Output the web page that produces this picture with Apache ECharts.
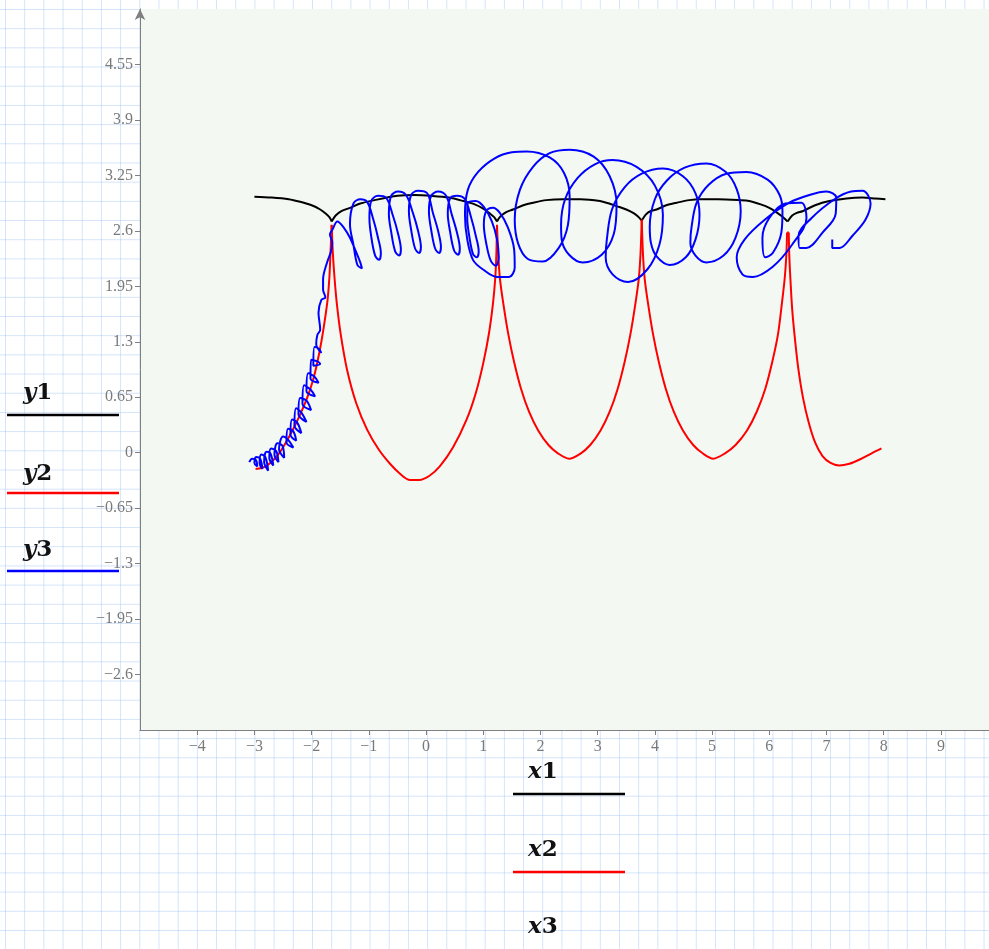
<!DOCTYPE html>
<html><head><meta charset="utf-8">
<script src="https://cdn.jsdelivr.net/npm/echarts/dist/echarts.min.js"></script>
<style>
html,body{margin:0;padding:0;width:989px;height:949px;overflow:hidden;}
body{background-color:#fff;
background-image:linear-gradient(to right, rgba(160,195,240,0.45) 1px, transparent 1px),linear-gradient(to bottom, rgba(160,195,240,0.45) 1px, transparent 1px);
background-size:19.2px 19.2px;background-position:5px 9px;}
#chart{width:989px;height:949px;}
</style></head>
<body><div id="chart"></div>
<script>
// axis tick settings
const xTicks = {min:-5, max:9.84, interval:1};
const yTicks = {min:-3.25, max:5.2, interval:0.65};

// y1 vs x1 (black), one array per arch between cusps
const y1Arches = [
 [[-3.00,3.00],[-2.70,2.99],[-2.40,2.97],[-2.20,2.94],[-2.00,2.90],[-1.85,2.85],[-1.75,2.80],[-1.69,2.76],[-1.65,2.71]],
 [[-1.65,2.71],[-1.58,2.78],[-1.48,2.83],[-1.33,2.87],[-1.15,2.92],[-0.90,2.96],[-0.50,3.01],[-0.20,3.02],[0.10,3.01],[0.40,2.99],[0.65,2.95],[0.85,2.91],[1.00,2.86],[1.12,2.80],[1.19,2.76],[1.24,2.71]],
 [[1.24,2.71],[1.30,2.77],[1.40,2.82],[1.52,2.85],[1.70,2.90],[1.87,2.93],[2.10,2.96],[2.40,2.97],[2.70,2.97],[3.04,2.95],[3.20,2.92],[3.33,2.89],[3.50,2.85],[3.62,2.81],[3.70,2.77],[3.77,2.72]],
 [[3.77,2.72],[3.84,2.79],[3.92,2.83],[4.03,2.85],[4.20,2.90],[4.38,2.93],[4.60,2.96],[4.80,2.97],[5.10,2.97],[5.48,2.96],[5.65,2.95],[5.85,2.91],[6.00,2.87],[6.12,2.82],[6.22,2.77],[6.32,2.71]],
 [[6.32,2.71],[6.40,2.78],[6.48,2.81],[6.58,2.83],[6.80,2.90],[7.05,2.95],[7.35,2.98],[7.63,2.99],[7.85,2.98],[8.03,2.97]]
];

// y2 vs x2 (red), one array per arch between cusps
const y2Arches = [
 [[-2.98,-0.19],[-2.88,-0.18],[-2.78,-0.15],[-2.66,-0.08],[-2.55,0.01],[-2.44,0.13],[-2.32,0.28],[-2.20,0.45],[-2.08,0.64],[-1.98,0.84],[-1.90,1.06],[-1.83,1.30],[-1.77,1.55],[-1.72,1.80],[-1.69,2.05],[-1.67,2.35],[-1.65,2.67]],
 [[-1.65,2.67],[-1.63,2.35],[-1.60,2.05],[-1.56,1.75],[-1.49,1.38],[-1.38,0.97],[-1.22,0.58],[-1.03,0.27],[-0.83,0.04],[-0.63,-0.13],[-0.45,-0.25],[-0.28,-0.32],[-0.12,-0.32],[0.06,-0.27],[0.24,-0.16],[0.47,0.06],[0.71,0.39],[0.87,0.70],[1.00,1.05],[1.10,1.40],[1.17,1.75],[1.21,2.05],[1.23,2.35],[1.24,2.67]],
 [[1.24,2.67],[1.26,2.35],[1.29,2.05],[1.35,1.75],[1.44,1.38],[1.54,1.06],[1.66,0.75],[1.80,0.48],[1.96,0.26],[2.14,0.09],[2.31,-0.01],[2.50,-0.07],[2.70,-0.01],[2.87,0.09],[3.05,0.26],[3.21,0.48],[3.35,0.75],[3.47,1.06],[3.57,1.38],[3.66,1.75],[3.72,2.05],[3.75,2.35],[3.77,2.73]],
 [[3.77,2.73],[3.79,2.35],[3.82,2.05],[3.88,1.75],[3.97,1.38],[4.07,1.06],[4.19,0.75],[4.33,0.48],[4.49,0.26],[4.67,0.09],[4.84,-0.01],[5.02,-0.07],[5.22,-0.01],[5.41,0.09],[5.61,0.26],[5.78,0.48],[5.93,0.75],[6.05,1.06],[6.15,1.38],[6.22,1.75],[6.27,2.05],[6.30,2.35],[6.31,2.58]],
 [[6.31,2.58],[6.34,2.58]],
 [[6.34,2.58],[6.35,2.30],[6.37,2.02],[6.40,1.68],[6.45,1.32],[6.51,0.97],[6.59,0.64],[6.69,0.35],[6.80,0.12],[6.93,-0.04],[7.07,-0.12],[7.22,-0.15],[7.40,-0.13],[7.58,-0.08],[7.78,-0.01],[7.96,0.05]]
];

// y3 vs x3 (blue)
const curveY3 = [[-3.09,-0.11],[-3.04,-0.07],[-2.97,-0.09],[-2.95,-0.16],[-3.00,-0.12],
[-2.97,-0.05],[-2.90,-0.07],[-2.86,-0.19],[-2.91,-0.12],
[-2.88,-0.02],[-2.81,-0.05],[-2.76,-0.21],[-2.83,-0.11],
[-2.79,0.01],[-2.72,-0.01],[-2.67,-0.15],[-2.74,-0.06],
[-2.71,0.05],[-2.62,0.02],[-2.58,-0.11],[-2.65,-0.02],
[-2.60,0.11],[-2.51,0.08],[-2.48,-0.06],[-2.57,0.04],
[-2.50,0.19],[-2.41,0.15],[-2.32,0.06],[-2.44,0.12],
[-2.41,0.28],[-2.32,0.25],[-2.27,0.14],[-2.37,0.21],
[-2.34,0.39],[-2.25,0.35],[-2.18,0.23],[-2.30,0.32],
[-2.27,0.52],[-2.18,0.47],[-2.09,0.36],[-2.23,0.45],
[-2.20,0.64],[-2.09,0.61],[-2.01,0.50],[-2.16,0.57],
[-2.13,0.79],[-2.02,0.74],[-1.94,0.66],[-2.09,0.72],
[-2.06,0.93],[-1.95,0.89],[-1.88,0.82],[-2.02,0.87],
[-2.01,1.09],[-1.90,1.07],[-1.85,1.04],[-1.97,1.02],
[-1.95,1.24],[-1.88,1.22],[-1.83,1.17],[-1.92,1.27],
[-1.90,1.38],[-1.85,1.44],[-1.88,1.64],[-1.83,1.79],[-1.76,1.82],[-1.80,1.91],[-1.80,2.03],[-1.73,2.23],[-1.66,2.36],[-1.64,2.46],[-1.68,2.56],[-1.64,2.61],[-1.55,2.71],
[-1.43,2.63],[-1.33,2.52],[-1.24,2.38],[-1.15,2.23],[-1.12,2.16],[-1.20,2.20],[-1.27,2.44],[-1.33,2.68],[-1.27,2.92],[-1.15,2.97],[-1.03,2.94],
[-0.92,2.73],[-0.84,2.52],[-0.79,2.34],[-0.82,2.26],[-0.89,2.31],[-0.96,2.54],[-0.99,2.75],[-0.96,2.95],[-0.84,3.01],[-0.70,2.99],
[-0.58,2.78],[-0.49,2.57],[-0.44,2.38],[-0.47,2.31],[-0.54,2.36],[-0.61,2.59],[-0.65,2.80],[-0.61,3.01],[-0.49,3.06],[-0.35,3.02],
[-0.23,2.81],[-0.14,2.60],[-0.09,2.41],[-0.12,2.34],[-0.19,2.39],[-0.26,2.61],[-0.30,2.83],[-0.26,3.02],[-0.14,3.07],[0.02,3.04],
[0.12,2.81],[0.21,2.60],[0.26,2.41],[0.23,2.34],[0.16,2.39],[0.09,2.61],[0.05,2.83],[0.09,3.01],[0.21,3.06],[0.35,3.01],
[0.45,2.79],[0.54,2.58],[0.59,2.39],[0.56,2.32],[0.49,2.37],[0.42,2.59],[0.38,2.80],[0.42,2.98],[0.54,3.01],[0.68,2.97],
[0.79,2.75],[0.87,2.54],[0.92,2.36],[0.89,2.29],[0.82,2.33],[0.75,2.56],[0.72,2.75],[0.73,2.93],[0.87,2.95],[1.01,2.88],
[1.15,2.71],[1.24,2.50],[1.27,2.29],[1.22,2.19],[1.13,2.25],[1.05,2.46],[1.01,2.67],[1.05,2.83],[1.17,2.87],[1.29,2.81],
[1.43,2.64],[1.54,2.38],[1.55,2.17],[1.45,2.06],[1.24,2.06],[0.99,2.15],[0.82,2.26],[0.72,2.50],[0.68,2.79],[0.73,3.08],[0.91,3.29],[1.20,3.45],[1.50,3.52],
[1.76,3.53],[2.16,3.46],[2.41,3.28],[2.51,3.00],[2.48,2.67],[2.32,2.40],[2.04,2.24],[1.78,2.27],[1.61,2.45],[1.55,2.73],[1.64,3.08],[1.87,3.35],[2.16,3.51],
[2.51,3.55],[2.93,3.47],[3.21,3.24],[3.33,2.91],[3.28,2.56],[3.07,2.32],[2.74,2.23],[2.50,2.32],[2.37,2.50],[2.36,2.67],[2.43,2.97],[2.65,3.22],[2.95,3.38],
[3.26,3.43],[3.68,3.35],[4.00,3.13],[4.14,2.79],[4.08,2.44],[3.87,2.15],[3.53,2.00],[3.26,2.09],[3.14,2.29],[3.16,2.50],[3.25,2.85],[3.47,3.11],[3.77,3.27],
[4.14,3.33],[4.49,3.24],[4.71,3.04],[4.78,2.79],[4.71,2.50],[4.54,2.29],[4.26,2.20],[4.03,2.30],[3.93,2.46],[3.91,2.65],[4.00,2.97],[4.21,3.19],[4.52,3.34],
[4.90,3.39],[5.24,3.29],[5.43,3.09],[5.50,2.83],[5.41,2.52],[5.20,2.31],[4.90,2.23],[4.71,2.31],[4.62,2.46],[4.64,2.64],[4.73,2.93],[4.94,3.14],[5.25,3.27],
[5.60,3.29],[5.97,3.20],[6.18,3.02],[6.23,2.83],[6.21,2.58],[6.06,2.34],[5.93,2.29],[5.88,2.52],[6.00,2.75],[6.28,2.92],
[6.56,2.93],[6.65,2.75],[6.40,2.44],[6.06,2.18],[5.71,2.06],[5.53,2.09],[5.43,2.29],[5.57,2.50],[5.92,2.73],[6.35,2.93],[6.70,3.02],
[7.00,3.06],[7.17,2.99],[7.16,2.80],[6.93,2.58],[6.65,2.40],[6.53,2.40],[6.51,2.54],[6.74,2.75],[7.14,2.97],[7.43,3.06],
[7.63,3.07],[7.77,2.92],[7.68,2.73],[7.45,2.54],[7.23,2.40],[7.10,2.40],[7.10,2.50]];

const yLegend = [['y','1','#000000'],['y','2','#ff0000'],['y','3','#0000ff']];
const xLegend = [['x','1','#000000'],['x','2','#ff0000'],['x','3','#0000ff']];

const fmt = v => parseFloat(v.toFixed(2)).toString().replace('-', '\u2212');
const labelStyle = {color:'#7a7a7a', fontFamily:'Liberation Serif', fontSize:16};

function legendItem(letter, digit, color, tx, ty, lx1, lx2, ly, showLine) {
  const items = [{
    type:'text', x:tx, y:ty, silent:true,
    style:{text:'{i|'+letter+'}{n|'+digit+'}', verticalAlign:'middle', align:'left',
      rich:{i:{fontStyle:'italic', fontWeight:'bold', fontFamily:'DejaVu Serif', fontSize:23, fill:'#111'},
            n:{fontWeight:'bold', fontFamily:'DejaVu Serif', fontSize:23, fill:'#111'}}}
  }];
  if (showLine) items.push({type:'line', silent:true, shape:{x1:lx1, y1:ly, x2:lx2, y2:ly}, style:{stroke:color, lineWidth:2.5}});
  return items;
}

const graphics = [];
const yTextY = [393.5, 474.5, 550.5];
const yLineY = [415, 493, 571];
yLegend.forEach((d,i)=>graphics.push(...legendItem(d[0], d[1], d[2], 23, yTextY[i], 7, 119, yLineY[i], true)));
const xTextY = [772, 850, 927];
const xLineY = [794, 872, 950];
xLegend.forEach((d,i)=>graphics.push(...legendItem(d[0], d[1], d[2], 528, xTextY[i], 513, 625, xLineY[i], i<2)));

const series = [];
y1Arches.forEach(arch=>series.push({name:'y1', type:'line', data:arch, showSymbol:false, smooth:0.3,
  lineStyle:{color:'#000000', width:2}, itemStyle:{color:'#000'}, z:2}));
y2Arches.forEach(arch=>series.push({name:'y2', type:'line', data:arch, showSymbol:false, smooth:0.3,
  lineStyle:{color:'#ff0000', width:2}, itemStyle:{color:'#f00'}, z:3}));
series.push({name:'y3', type:'line', data:curveY3, showSymbol:false, smooth:0.35,
  lineStyle:{color:'#0000ff', width:2}, itemStyle:{color:'#00f'}, z:4});

const chart = echarts.init(document.getElementById('chart'));
chart.setOption({
  animation:false,
  backgroundColor:'transparent',
  grid:{left:140, top:9, width:849, height:721, show:true, backgroundColor:'#f4f8f3', borderWidth:0},
  xAxis:{type:'value', min:xTicks.min, max:xTicks.max, interval:xTicks.interval,
    axisLine:{onZero:false, lineStyle:{color:'#7f7f7f', width:1}},
    axisTick:{show:true, length:5, lineStyle:{color:'#7f7f7f'}},
    axisLabel:Object.assign({showMinLabel:false, showMaxLabel:false, margin:9, formatter:fmt}, labelStyle),
    splitLine:{show:false}},
  yAxis:{type:'value', min:yTicks.min, max:yTicks.max, interval:yTicks.interval,
    axisLine:{show:true, onZero:false, symbol:['none','arrow'], symbolSize:[8,11], lineStyle:{color:'#7f7f7f', width:1}},
    axisTick:{show:true, length:5, lineStyle:{color:'#7f7f7f'}},
    axisLabel:Object.assign({showMinLabel:false, showMaxLabel:false, margin:7, formatter:fmt}, labelStyle),
    splitLine:{show:false}},
  graphic:graphics,
  series:series
});
</script></body></html>
